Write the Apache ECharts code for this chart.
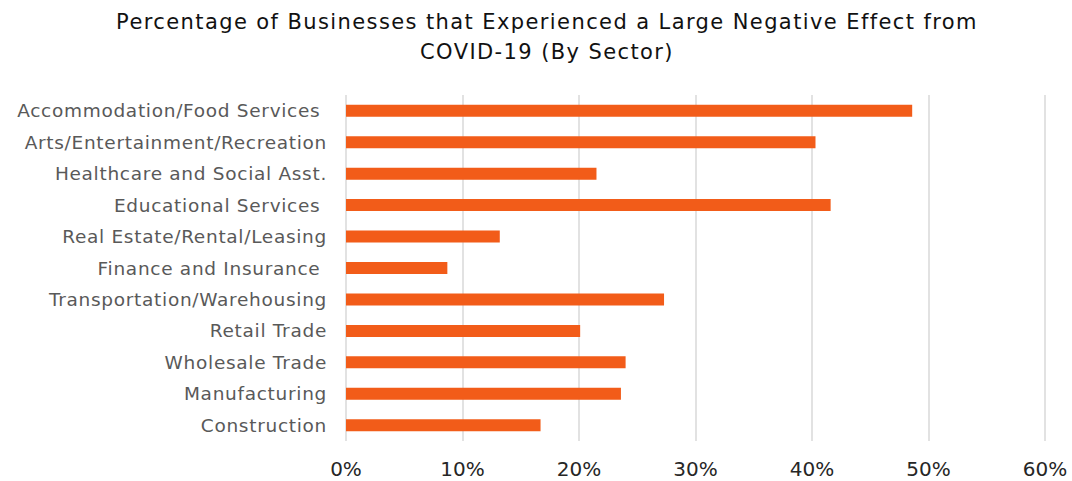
<!DOCTYPE html>
<html>
<head>
<meta charset="utf-8">
<script src="https://cdn.jsdelivr.net/npm/echarts@6/dist/echarts.min.js"></script>
<style>
  html, body { margin: 0; padding: 0; background: #ffffff; }
  #chart { width: 1072px; height: 481px; }
  /* wide tracking for the title and sector names */
  #chart text[fill="#595959"] { letter-spacing: 0.7px; }
  #chart text[fill="#111111"] { letter-spacing: 1.4px; }
</style>
</head>
<body>
<div id="chart"></div>
<script>
// Sectors, listed bottom to top as the category axis draws them
const sectors = [
  'Construction',
  'Manufacturing',
  'Wholesale Trade',
  'Retail Trade',
  'Transportation/Warehousing',
  'Finance and Insurance ',
  'Real Estate/Rental/Leasing',
  'Educational Services ',
  'Healthcare and Social Asst.',
  'Arts/Entertainment/Recreation',
  'Accommodation/Food Services '
];

// Share of businesses reporting a large negative effect (%)
const sharePct = [16.7, 23.6, 24.0, 20.1, 27.3, 8.7, 13.2, 41.6, 21.5, 40.3, 48.6];

// Value-axis ticks (%)
const pctTicks = [0, 10, 20, 30, 40, 50, 60];

const FONT = 'DejaVu Sans';

const chart = echarts.init(document.getElementById('chart'), null, { renderer: 'svg' });

chart.setOption({
  backgroundColor: '#ffffff',
  animation: false,
  title: {
    text: 'Percentage of Businesses that Experienced a Large Negative Effect from\nCOVID-19 (By Sector)',
    left: 542,
    textAlign: 'center',
    top: 2,
    textStyle: {
      fontFamily: FONT,
      fontSize: 21,
      fontWeight: 'normal',
      color: '#111111',
      lineHeight: 30
    }
  },
  grid: {
    left: 346,
    right: 27,
    top: 95,
    bottom: 40,
    containLabel: false
  },
  xAxis: {
    type: 'value',
    min: pctTicks[0],
    max: pctTicks[pctTicks.length - 1],
    interval: 10,
    axisLine: { show: false },
    axisTick: { show: false },
    splitLine: { show: true, lineStyle: { color: '#d9d9d9', width: 1.5 } },
    axisLabel: {
      margin: 18,
      fontFamily: FONT,
      fontSize: 20,
      color: '#262626',
      formatter: v => v + '%'
    }
  },
  yAxis: {
    type: 'category',
    data: sectors,
    axisLine: { show: false },
    axisTick: { show: false },
    axisLabel: {
      margin: 19,
      fontFamily: FONT,
      fontSize: 18.5,
      color: '#595959'
    }
  },
  series: [{
    type: 'bar',
    data: sharePct,
    barWidth: 12,
    itemStyle: { color: '#f25c19' }
  }]
});
</script>
</body>
</html>
